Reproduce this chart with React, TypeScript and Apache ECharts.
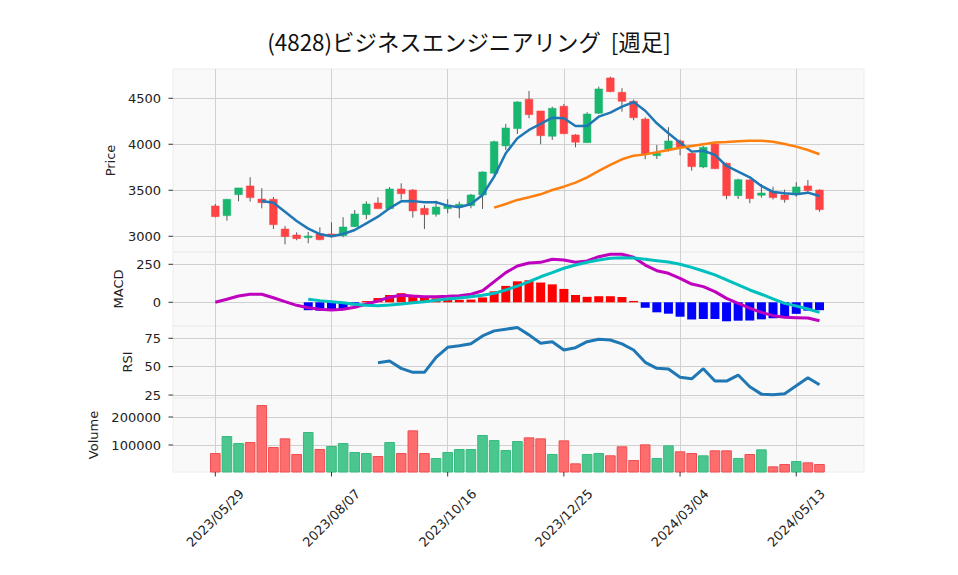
import React, { useEffect, useRef } from 'react';
import * as echarts from 'echarts';

const TITLE = '(4828)ビジネスエンジニアリング  [週足]';

const dates = [
  '2023/05/29', '2023/06/05', '2023/06/12', '2023/06/19', '2023/06/26', '2023/07/03', '2023/07/10', '2023/07/17',
  '2023/07/24', '2023/07/31', '2023/08/07', '2023/08/14', '2023/08/21', '2023/08/28', '2023/09/04', '2023/09/11',
  '2023/09/18', '2023/09/25', '2023/10/02', '2023/10/09', '2023/10/16', '2023/10/23', '2023/10/30', '2023/11/06',
  '2023/11/13', '2023/11/20', '2023/11/27', '2023/12/04', '2023/12/11', '2023/12/18', '2023/12/25', '2024/01/01',
  '2024/01/08', '2024/01/15', '2024/01/22', '2024/01/29', '2024/02/05', '2024/02/12', '2024/02/19', '2024/02/26',
  '2024/03/04', '2024/03/11', '2024/03/18', '2024/03/25', '2024/04/01', '2024/04/08', '2024/04/15', '2024/04/22',
  '2024/04/29', '2024/05/06', '2024/05/13', '2024/05/20', '2024/05/27',
];

const opens = [
  3329, 3224, 3452, 3547, 3405, 3402, 3079, 3014, 2985, 3028, 3025, 3007, 3104, 3235, 3362, 3300,
  3514, 3503, 3304, 3239, 3300, 3325, 3333, 3449, 3685, 3982, 4170, 4489, 4362, 4087, 4413, 4101,
  4017, 4337, 4721, 4565, 4467, 4274, 3876, 3945, 4036, 3902, 3753, 4003, 3793, 3441, 3612, 3445,
  3489, 3449, 3471, 3547, 3503,
];
const closes = [
  3213, 3402, 3525, 3420, 3365, 3126, 2996, 2974, 3003, 2963, 2996, 3101, 3242, 3351, 3300, 3514,
  3463, 3275, 3235, 3318, 3340, 3348, 3449, 3699, 4028, 4177, 4460, 4322, 4093, 4391, 4115, 4022,
  4329, 4601, 4572, 4467, 4289, 3891, 3902, 4036, 3967, 3757, 3967, 3735, 3441, 3615, 3409, 3470,
  3420, 3398, 3536, 3496, 3289,
];
const highs = [
  3351, 3405, 3525, 3641, 3522, 3427, 3112, 3043, 3047, 3098, 3152, 3207, 3286, 3380, 3424, 3536,
  3576, 3514, 3340, 3387, 3402, 3376, 3460, 3705, 4039, 4221, 4467, 4579, 4362, 4409, 4438, 4110,
  4348, 4626, 4735, 4609, 4485, 4293, 3992, 4185, 4050, 3910, 3982, 4020, 3800, 3625, 3620, 3568,
  3539, 3507, 3587, 3612, 3510,
];
const lows = [
  3207, 3170, 3380, 3376, 3304, 3079, 2913, 2957, 2924, 2957, 2985, 2989, 3101, 3185, 3300, 3286,
  3398, 3202, 3079, 3213, 3250, 3196, 3304, 3297, 3674, 3938, 4112, 4283, 4000, 4047, 4109, 3967,
  4017, 4329, 4565, 4354, 4261, 3837, 3840, 3920, 3880, 3713, 3740, 3730, 3402, 3405, 3359, 3420,
  3400, 3365, 3430, 3480, 3267,
];
const volumes = [
  71400, 132100, 107100, 110700, 242800, 92900, 123800, 67900, 146400, 85700, 96400, 107100, 75000, 71400, 60700, 110700,
  71400, 152400, 71400, 53600, 75000, 85700, 85700, 135700, 117900, 82100, 114300, 127400, 123800, 67900, 116600, 34600,
  67900, 71400, 63200, 95300, 46400, 102400, 53600, 98800, 77400, 71400, 63200, 81000, 81000, 53600, 67900, 84500,
  23800, 32100, 42800, 38100, 32100,
];
const ma5 = [
  null, null, null, null, 3384, 3365, 3267, 3166, 3083, 3022, 3000, 3025, 3068, 3141, 3213, 3304,
  3380, 3382, 3370, 3370, 3333, 3315, 3351, 3449, 3648, 3902, 4065, 4156, 4221, 4289, 4283, 4199,
  4199, 4300, 4344, 4409, 4458, 4364, 4228, 4120, 4018, 3920, 3930, 3884, 3764, 3702, 3641, 3547,
  3482, 3467, 3456, 3474, 3438,
];
const ma25 = [
  null, null, null, null, null, null, null, null, null, null, null, null, null, null, null, null,
  null, null, null, null, null, null, null, null, 3311, 3351, 3395, 3424, 3456, 3503, 3539, 3583,
  3641, 3710, 3775, 3837, 3876, 3890, 3913, 3938, 3963, 3982, 4000, 4018, 4025, 4033, 4039, 4039,
  4028, 4003, 3974, 3938, 3891,
];
const macd = [
  0, 20, 41, 53, 53, 30, 4, -20, -36, -46, -51, -46, -33, -11, 9, 33,
  46, 41, 37, 37, 39, 43, 53, 76, 136, 195, 239, 259, 263, 283, 278, 263,
  272, 300, 316, 316, 296, 245, 208, 191, 158, 120, 103, 70, 26, -7, -39, -66,
  -88, -99, -101, -103, -121,
];
const signal = [
  null, null, null, null, null, null, null, null, 20, 11, 4, -3, -13, -20, -22, -18,
  -11, -3, 4, 13, 22, 28, 37, 46, 59, 81, 107, 136, 168, 195, 224, 245,
  263, 278, 290, 293, 291, 283, 274, 265, 250, 230, 206, 180, 147, 114, 81, 53,
  22, -7, -24, -44, -66,
];
const hist = [
  null, null, null, null, null, null, null, null, -52, -55, -55, -43, -20, 8, 28, 48,
  60, 45, 34, 26, 19, 16, 18, 32, 72, 108, 138, 145, 130, 118, 88, 48,
  36, 40, 40, 35, 9, -36, -66, -75, -95, -113, -110, -110, -125, -121, -120, -112,
  -105, -95, -76, -55, -52,
];
const rsi = [
  null, null, null, null, null, null, null, null, null, null, null, null, null, null, 53.5, 55,
  48.5, 45, 45, 58.2, 67, 68.5, 70.2, 77, 81.5, 83, 84.4, 78, 70.6, 72, 64.7, 66.7,
  72, 74.1, 73.5, 70, 64.7, 53.8, 48.5, 47.9, 40.6, 39.3, 48.2, 37.3, 37.3, 42.6, 32.3, 25.8,
  25.2, 26.1, 33.1, 40.2, 34,
];

const dateTicks = [0, 10, 20, 30, 40, 50];
const priceTicks = [3000, 3500, 4000, 4500];
const macdTicks = [0, 250];
const rsiTicks = [25, 50, 75];
const volTicks = [100000, 200000];

const X_MIN = -3.64;
const X_MAX = 55.83;
const PRICE_RANGE = [2829, 4818];
const MACD_RANGE = [-156, 331];
const RSI_RANGE = [22.4, 85.8];
const VOL_RANGE = [3571, 267900];

const UP = '#19b66f';
const DOWN = '#fe4345';
const GRID_LINE = '#d0d0d0';
const TXT = '#222222';
const TICK = '#333333';
const FONT = 'DejaVu Sans';

export default function App() {
  const ref = useRef<HTMLDivElement>(null);

  useEffect(() => {
    if (!ref.current) return;
    const chart = echarts.init(ref.current, null, { renderer: 'svg' });

    const left = 173;
    const right = 94;
    const gridBase = {
      left,
      right,
      show: true,
      backgroundColor: '#f9f9f9',
      borderColor: '#ececec',
      borderWidth: 1,
    };
    const grids = [
      { ...gridBase, top: 69, height: 183 },
      { ...gridBase, top: 252, height: 74 },
      { ...gridBase, top: 326, height: 72 },
      { ...gridBase, top: 398, height: 74 },
    ];

    const xAxisBase = (gi: number, bottom: boolean) => ({
      type: 'value',
      gridIndex: gi,
      position: 'bottom',
      min: X_MIN,
      max: X_MAX,
      axisLine: { show: false, onZero: false },
      axisTick: { show: false, customValues: dateTicks },
      axisLabel: {
        show: bottom,
        customValues: dateTicks,
        formatter: (v: number) => dates[Math.round(v)] ?? '',
        rotate: 45,
        align: 'center',
        verticalAlign: 'middle',
        margin: 46,
        fontSize: 13,
        fontFamily: FONT,
        color: TXT,
      },
      splitLine: { show: true, lineStyle: { color: GRID_LINE, width: 1 } },
    });

    const yAxisBase = (gi: number, name: string, range: number[], ticks: number[], gap: number) => ({
      type: 'value',
      gridIndex: gi,
      position: 'left',
      min: range[0],
      max: range[1],
      name,
      nameLocation: 'middle',
      nameGap: gap,
      nameTextStyle: { fontSize: 13, fontFamily: FONT, color: TXT },
      axisLine: { show: false, onZero: false },
      axisTick: { show: false, customValues: ticks },
      axisLabel: {
        customValues: ticks,
        formatter: (v: number) => String(v),
        fontSize: 13,
        fontFamily: FONT,
        color: TXT,
        margin: 12,
      },
      splitLine: { show: true, lineStyle: { color: GRID_LINE, width: 1 } },
    });

    // tick marks drawn through the axes' own scales
    const yTickSeries = (gi: number, ticks: number[]) => ({
      type: 'custom',
      xAxisIndex: gi,
      yAxisIndex: gi,
      silent: true,
      clip: false,
      z: 10,
      data: ticks.map((t) => [X_MIN, t]),
      renderItem: (_p: any, api: any) => {
        const p = api.coord([api.value(0), api.value(1)]);
        return {
          type: 'line',
          shape: { x1: p[0] - 4.5, y1: p[1], x2: p[0], y2: p[1] },
          style: { stroke: TICK, lineWidth: 1 },
        };
      },
    });

    const xTickSeries = {
      type: 'custom',
      xAxisIndex: 3,
      yAxisIndex: 3,
      silent: true,
      clip: false,
      z: 10,
      data: dateTicks.map((t) => [t, VOL_RANGE[0]]),
      renderItem: (_p: any, api: any) => {
        const p = api.coord([api.value(0), api.value(1)]);
        return {
          type: 'line',
          shape: { x1: p[0], y1: p[1], x2: p[0], y2: p[1] + 4.5 },
          style: { stroke: TICK, lineWidth: 1 },
        };
      },
    };

    const candleData = dates.map((_, i) => [i, opens[i], closes[i], lows[i], highs[i]]);
    const pairs = (arr: (number | null)[]) => arr.map((v, i) => [i, v]);

    const volData = volumes.map((v, i) => {
      const up = i === 0 ? closes[0] >= opens[0] : closes[i] >= closes[i - 1];
      return {
        value: [i, v],
        itemStyle: {
          color: up ? '#4bc68e' : '#fd6d6e',
          borderColor: up ? '#35bb80' : '#f24d4f',
          borderWidth: 1,
        },
      };
    });

    const histData = hist
      .map((h, i) => (h === null ? null : { value: [i, h], itemStyle: { color: h >= 0 ? '#ff0000' : '#0000ff' } }))
      .filter((d) => d !== null);

    chart.setOption({
      animation: false,
      backgroundColor: '#ffffff',
      grid: grids,
      graphic: [
        {
          type: 'text',
          x: 469,
          y: 41,
          style: {
            text: TITLE,
            align: 'center',
            verticalAlign: 'middle',
            fontSize: 22.4,
            fontFamily: 'Noto Sans CJK JP',
            fill: '#111',
          },
        },
      ],
      xAxis: [xAxisBase(0, false), xAxisBase(1, false), xAxisBase(2, false), xAxisBase(3, true)],
      yAxis: [
        yAxisBase(0, 'Price', PRICE_RANGE, priceTicks, 52),
        yAxisBase(1, 'MACD', MACD_RANGE, macdTicks, 44),
        yAxisBase(2, 'RSI', RSI_RANGE, rsiTicks, 36),
        yAxisBase(3, 'Volume', VOL_RANGE, volTicks, 70),
      ],
      series: [
        {
          type: 'custom',
          xAxisIndex: 0,
          yAxisIndex: 0,
          data: candleData,
          encode: { x: 0, y: [1, 2, 3, 4] },
          renderItem: (params: any, api: any) => {
            const x = api.value(0);
            const o = api.value(1);
            const c = api.value(2);
            const l = api.value(3);
            const h = api.value(4);
            const pO = api.coord([x, o]);
            const pC = api.coord([x, c]);
            const pL = api.coord([x, l]);
            const pH = api.coord([x, h]);
            const w = api.size([1, 0])[0] * 0.66;
            const color = c >= o ? UP : DOWN;
            const top = Math.min(pO[1], pC[1]);
            const hgt = Math.max(Math.abs(pO[1] - pC[1]), 1);
            return {
              type: 'group',
              children: [
                {
                  type: 'line',
                  shape: { x1: pL[0], y1: pL[1], x2: pH[0], y2: pH[1] },
                  style: { stroke: '#5a5a5a', lineWidth: 1 },
                },
                {
                  type: 'rect',
                  shape: { x: pO[0] - w / 2, y: top, width: w, height: hgt },
                  style: { fill: color, stroke: color, lineWidth: 0.5 },
                },
              ],
            };
          },
          z: 3,
        },
        {
          type: 'line',
          xAxisIndex: 0,
          yAxisIndex: 0,
          data: pairs(ma5),
          showSymbol: false,
          lineStyle: { color: '#1f77b4', width: 2.5 },
          itemStyle: { color: '#1f77b4' },
          z: 4,
        },
        {
          type: 'line',
          xAxisIndex: 0,
          yAxisIndex: 0,
          data: pairs(ma25),
          showSymbol: false,
          lineStyle: { color: '#ff7f0e', width: 2.5 },
          itemStyle: { color: '#ff7f0e' },
          z: 4,
        },
        {
          type: 'bar',
          xAxisIndex: 1,
          yAxisIndex: 1,
          data: histData,
          barWidth: 9,
          z: 2,
        },
        {
          type: 'line',
          xAxisIndex: 1,
          yAxisIndex: 1,
          data: pairs(macd),
          showSymbol: false,
          lineStyle: { color: '#bf00bf', width: 3 },
          itemStyle: { color: '#bf00bf' },
          z: 3,
        },
        {
          type: 'line',
          xAxisIndex: 1,
          yAxisIndex: 1,
          data: pairs(signal),
          showSymbol: false,
          lineStyle: { color: '#00bfbf', width: 3 },
          itemStyle: { color: '#00bfbf' },
          z: 4,
        },
        {
          type: 'line',
          xAxisIndex: 2,
          yAxisIndex: 2,
          data: pairs(rsi),
          showSymbol: false,
          lineStyle: { color: '#1f77b4', width: 3 },
          itemStyle: { color: '#1f77b4' },
          z: 3,
        },
        {
          type: 'bar',
          xAxisIndex: 3,
          yAxisIndex: 3,
          data: volData,
          barWidth: 10.6,
          z: 2,
        },
        yTickSeries(0, priceTicks),
        yTickSeries(1, macdTicks),
        yTickSeries(2, rsiTicks),
        yTickSeries(3, volTicks),
        xTickSeries,
      ],
    });

    return () => {
      chart.dispose();
    };
  }, []);

  return (
    <div
      ref={ref}
      style={{ position: 'absolute', left: 0, top: 0, width: 958, height: 575 }}
    />
  );
}
